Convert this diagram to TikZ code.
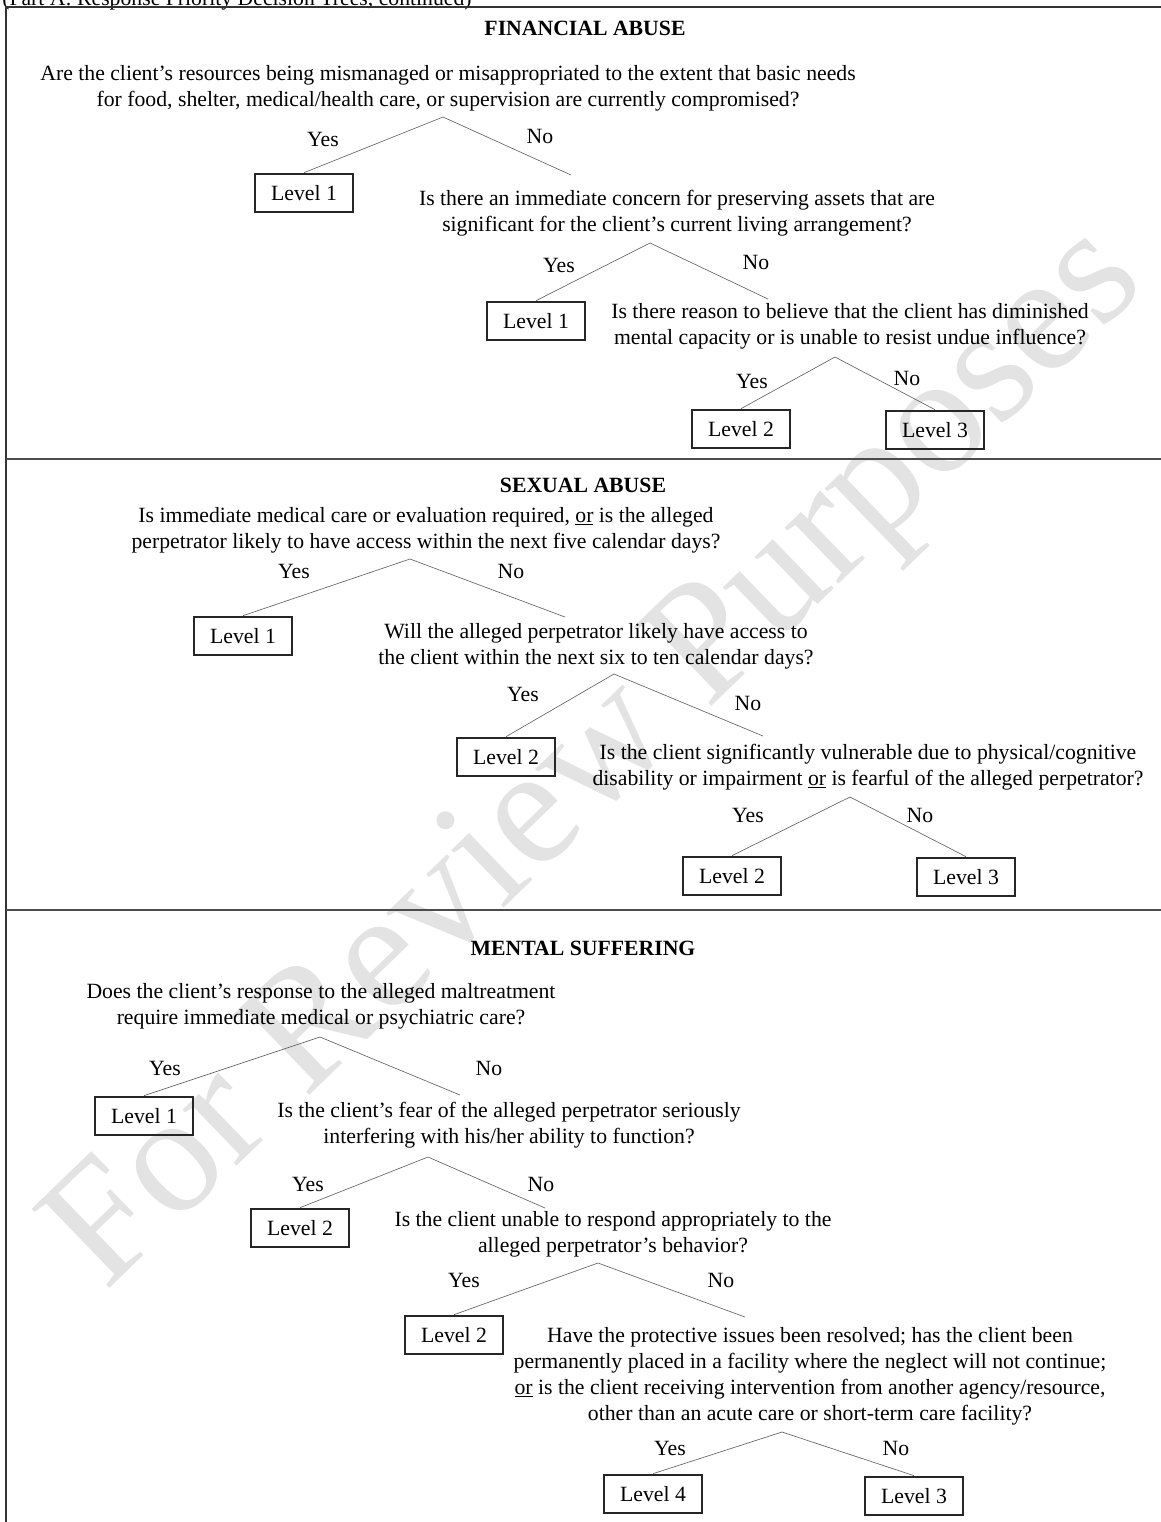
\documentclass[tikz,border=0pt]{standalone}
\usepackage{fontspec}
\setmainfont{Liberation Serif}
\newcommand{\bodyfont}{\fontsize{16.3}{19.5}\selectfont}
\begin{document}
\begin{tikzpicture}[x=0.75pt,y=-0.75pt,
  q/.style={align=center,inner sep=0pt,font=\bodyfont},
  lab/.style={inner sep=0pt,font=\bodyfont},
  ttl/.style={inner sep=0pt,font=\bodyfont\bfseries},
  lvl/.style={draw=black!85,line width=1.5pt,minimum width=73pt,minimum height=29pt,inner sep=0pt,font=\bodyfont},
  br/.style={draw=black!60,line width=0.5pt},
  frame/.style={draw=black!80,line width=1.6pt},
  divl/.style={draw=black!70,line width=2.2pt}]
\useasboundingbox (0,0) rectangle (1161,1522);
% watermark
\node[text=black!11,rotate=44,font=\fontsize{127}{127}\selectfont,inner sep=0pt] (wm) at (600,762) {For Review Purposes};
% header and frame
\node[anchor=base west,inner sep=0pt,font=\bodyfont] (hdr) at (2,5) {(Part A: Response Priority Decision Trees, continued)};
\coordinate (fbl) at (6,1540);
\coordinate (ftl) at (6,7);
\coordinate (ftr) at (1175,7);
\draw[frame] (fbl) -- (ftl) -- (ftr);
\coordinate (d1l) at (6,459); \coordinate (d1r) at (1175,459);
\coordinate (d2l) at (6,910); \coordinate (d2r) at (1175,910);
\draw[divl] (d1l) -- (d1r);
\draw[divl] (d2l) -- (d2r);

% ---------------- FINANCIAL ABUSE
\node[ttl] (t1) at (585,28) {FINANCIAL ABUSE};
\node[q] (f1) at (448,88) {Are the client’s resources being mismanaged or misappropriated to the extent that basic needs\\for food, shelter, medical/health care, or supervision are currently compromised?};
\coordinate (f1a) at (443,117);
\node[lab] (f1y) at (323,139) {Yes};
\node[lab] (f1n) at (540,136) {No};
\node[lvl] (f1l) at (304,193) {Level 1};
\coordinate (f1e) at (571,175);
\draw[br] (f1l.north) -- (f1a) -- (f1e);

\node[q] (f2) at (677,213) {Is there an immediate concern for preserving assets that are\\significant for the client’s current living arrangement?};
\coordinate (f2a) at (650,243);
\node[lab] (f2y) at (559,265) {Yes};
\node[lab] (f2n) at (756,262) {No};
\node[lvl] (f2l) at (536,321) {Level 1};
\coordinate (f2e) at (768,299);
\draw[br] (f2l.north) -- (f2a) -- (f2e);

\node[q] (f3) at (850,326) {Is there reason to believe that the client has diminished\\mental capacity or is unable to resist undue influence?};
\coordinate (f3a) at (835,357);
\node[lab] (f3y) at (752,381) {Yes};
\node[lab] (f3n) at (907,378) {No};
\node[lvl] (f3l) at (741,429) {Level 2};
\node[lvl] (f3r) at (935,430) {Level 3};
\draw[br] (f3l.north) -- (f3a) -- (f3r.north);

% ---------------- SEXUAL ABUSE
\node[ttl] (t2) at (583,485) {SEXUAL ABUSE};
\node[q] (s1) at (426,530) {Is immediate medical care or evaluation required, \underline{or} is the alleged\\perpetrator likely to have access within the next five calendar days?};
\coordinate (s1a) at (410,559);
\node[lab] (s1y) at (294,571) {Yes};
\node[lab] (s1n) at (511,571) {No};
\node[lvl] (s1l) at (243,636) {Level 1};
\coordinate (s1e) at (565,617);
\draw[br] (s1l.north) -- (s1a) -- (s1e);

\node[q] (s2) at (596,646) {Will the alleged perpetrator likely have access to\\the client within the next six to ten calendar days?};
\coordinate (s2a) at (614,674);
\node[lab] (s2y) at (523,694) {Yes};
\node[lab] (s2n) at (748,703) {No};
\node[lvl] (s2l) at (506,757) {Level 2};
\coordinate (s2e) at (763,736);
\draw[br] (s2l.north) -- (s2a) -- (s2e);

\node[q] (s3) at (868,767) {Is the client significantly vulnerable due to physical/cognitive\\disability or impairment \underline{or} is fearful of the alleged perpetrator?};
\coordinate (s3a) at (850,797);
\node[lab] (s3y) at (748,815) {Yes};
\node[lab] (s3n) at (920,815) {No};
\node[lvl] (s3l) at (732,876) {Level 2};
\node[lvl] (s3r) at (966,877) {Level 3};
\draw[br] (s3l.north) -- (s3a) -- (s3r.north);

% ---------------- MENTAL SUFFERING
\node[ttl] (t3) at (583,948) {MENTAL SUFFERING};
\node[q] (m1) at (321,1006) {Does the client’s response to the alleged maltreatment\\require immediate medical or psychiatric care?};
\coordinate (m1a) at (320,1037);
\node[lab] (m1y) at (165,1068) {Yes};
\node[lab] (m1n) at (489,1068) {No};
\node[lvl] (m1l) at (144,1116) {Level 1};
\coordinate (m1e) at (460,1095);
\draw[br] (m1l.north) -- (m1a) -- (m1e);

\node[q] (m2) at (509,1125) {Is the client’s fear of the alleged perpetrator seriously\\interfering with his/her ability to function?};
\coordinate (m2a) at (428,1157);
\node[lab] (m2y) at (308,1184) {Yes};
\node[lab] (m2n) at (541,1184) {No};
\node[lvl] (m2l) at (300,1228) {Level 2};
\coordinate (m2e) at (545,1208);
\draw[br] (m2l.north) -- (m2a) -- (m2e);

\node[q] (m3) at (613,1234) {Is the client unable to respond appropriately to the\\alleged perpetrator’s behavior?};
\coordinate (m3a) at (598,1263);
\node[lab] (m3y) at (464,1280) {Yes};
\node[lab] (m3n) at (721,1280) {No};
\node[lvl] (m3l) at (454,1335) {Level 2};
\coordinate (m3e) at (745,1317);
\draw[br] (m3l.north) -- (m3a) -- (m3e);

\node[q] (m4) at (810,1376) {Have the protective issues been resolved; has the client been\\permanently placed in a facility where the neglect will not continue;\\\underline{or} is the client receiving intervention from another agency/resource,\\other than an acute care or short-term care facility?};
\coordinate (m4a) at (782,1432);
\node[lab] (m4y) at (670,1448) {Yes};
\node[lab] (m4n) at (896,1448) {No};
\node[lvl] (m4l) at (653,1494) {Level 4};
\node[lvl] (m4r) at (914,1496) {Level 3};
\draw[br] (m4l.north) -- (m4a) -- (m4r.north);
\end{tikzpicture}
\end{document}
